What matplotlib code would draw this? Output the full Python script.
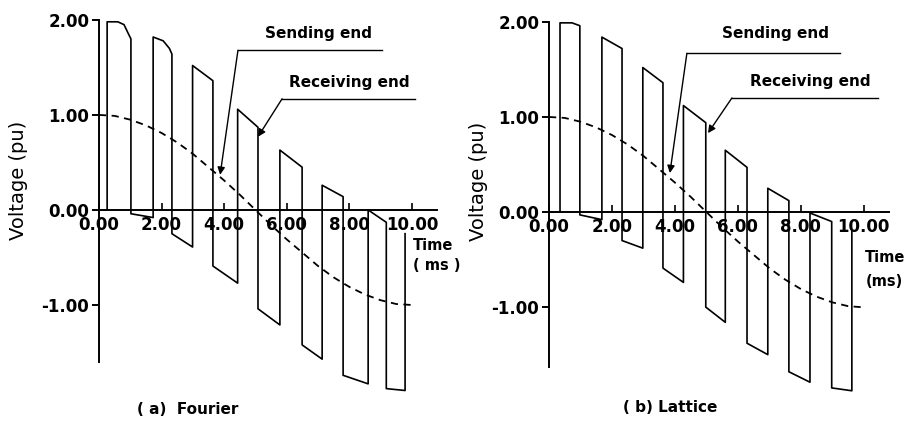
import numpy as np
import matplotlib
matplotlib.use("Agg")
import matplotlib.pyplot as plt

# ----- data -----
# receiving end waveform, Fourier method: vertices (time ms, voltage pu)
fourier_t = [0, 0.26, 0.26, 0.6, 0.8, 0.93, 1.02, 1.02, 1.73, 1.73, 2.05, 2.25,
             2.33, 2.33, 2.99, 2.99, 3.64, 3.64, 4.43, 4.43, 5.08, 5.08, 5.78,
             5.78, 6.49, 6.49, 7.13, 7.13, 7.80, 7.80, 8.60, 8.60, 9.18, 9.18,
             9.78, 9.78]
fourier_v = [0, 0, 1.98, 1.98, 1.95, 1.86, 1.80, -0.04, -0.08, 1.82, 1.78, 1.70,
             1.64, -0.25, -0.39, 1.52, 1.36, -0.59, -0.77, 1.06, 0.87, -1.04,
             -1.21, 0.63, 0.45, -1.42, -1.57, 0.26, 0.14, -1.74, -1.83, 0.0,
             -0.13, -1.88, -1.90, -0.25]

# receiving end waveform, Lattice method
lattice_t = [0, 0.35, 0.35, 0.73, 0.98, 0.98, 1.68, 1.68, 2.32, 2.32, 2.98, 2.98,
             3.62, 3.62, 4.27, 4.27, 4.98, 4.98, 5.60, 5.60, 6.29, 6.29, 6.95,
             6.95, 7.62, 7.62, 8.29, 8.29, 8.98, 8.98, 9.62, 9.62]
lattice_v = [0, 0, 1.99, 1.99, 1.96, -0.03, -0.08, 1.84, 1.72, -0.30, -0.38, 1.52,
             1.36, -0.59, -0.74, 1.12, 0.94, -1.00, -1.16, 0.65, 0.47, -1.38,
             -1.50, 0.25, 0.12, -1.68, -1.79, -0.01, -0.10, -1.85, -1.88, -0.20]

# sending end voltage (dashed)
send_t = [0, 0.5, 1, 1.5, 2, 2.5, 3, 3.5, 4, 4.5, 5, 5.5, 6, 6.5, 7, 7.5, 8,
          8.5, 9, 9.5, 10]
send_v = [1.00, 0.99, 0.95, 0.89, 0.81, 0.71, 0.59, 0.45, 0.31, 0.16, 0.00,
          -0.16, -0.31, -0.45, -0.59, -0.71, -0.81, -0.89, -0.95, -0.99, -1.00]

x_ticks = [0, 2, 4, 6, 8, 10]
x_labels = ["0.00", "2.00", "4.00", "6.00", "8.00", "10.00"]
y_ticks = [-1, 0, 1, 2]
y_labels = ["-1.00", "0.00", "1.00", "2.00"]

W, H = 909, 421
fig = plt.figure(figsize=(W / 100, H / 100), dpi=100)
fig.patch.set_facecolor("white")


def px_axes(left, right, top, bottom):
    return fig.add_axes([left / W, 1 - bottom / H, (right - left) / W, (bottom - top) / H])


def setup(ax, ylim):
    ax.set_xlim(0, 10.8)
    ax.set_ylim(*ylim)
    for s in ["top", "right"]:
        ax.spines[s].set_visible(False)
    ax.spines["bottom"].set_position(("data", 0))
    ax.spines["left"].set_bounds(ylim[0], 2.0)
    for s in ["bottom", "left"]:
        ax.spines[s].set_linewidth(1.4)
    ax.set_xticks(x_ticks)
    ax.set_xticklabels(x_labels, fontweight="bold", fontsize=12)
    ax.set_yticks(y_ticks)
    ax.set_yticklabels(y_labels, fontweight="bold", fontsize=12, va="center_baseline")
    ax.tick_params(axis="x", direction="in", length=5, width=1.2, pad=4.5)
    ax.tick_params(axis="y", direction="out", length=5, width=1.4, pad=2)
    for lab in ax.get_xticklabels():
        lab.set_bbox(dict(facecolor="white", edgecolor="none", pad=0.5))
    ax.patch.set_alpha(0)


def leader(ax, text, text_xy, line_x, line_y, tip):
    ax.text(text_xy[0], text_xy[1], text, ha="center", va="center",
            fontsize=11, fontweight="bold", clip_on=False)
    ax.plot(line_x, [line_y, line_y], color="black", lw=1.0, clip_on=False)
    ax.annotate("", xy=tip, xytext=(line_x[0], line_y), annotation_clip=False,
                arrowprops=dict(arrowstyle="-|>", color="black", lw=1.0,
                                mutation_scale=11, shrinkA=0, shrinkB=0))


# ----- (a) Fourier -----
ax1 = px_axes(99, 437, 18, 362)
setup(ax1, (-1.6, 2.02))
ax1.plot(fourier_t, fourier_v, color="black", lw=1.2, clip_on=False)
ax1.plot(send_t, send_v, color="black", lw=1.3, ls=(0, (4, 3)), clip_on=False)
leader(ax1, "Sending end", (7.0, 1.86), [4.44, 9.04], 1.68, (3.87, 0.37))
leader(ax1, "Receiving end", (7.99, 1.34), [5.85, 10.1], 1.17, (5.08, 0.77))

# ----- (b) Lattice -----
ax2 = px_axes(549, 889, 20, 367)
setup(ax2, (-1.63, 2.02))
ax2.plot(lattice_t, lattice_v, color="black", lw=1.2, clip_on=False)
ax2.plot(send_t[:-1] + [9.9], send_v, color="black", lw=1.3, ls=(0, (4, 3)), clip_on=False)
leader(ax2, "Sending end", (7.2, 1.88), [4.38, 9.24], 1.67, (3.84, 0.41))
leader(ax2, "Receiving end", (8.29, 1.37), [5.81, 10.44], 1.20, (5.05, 0.83))

# axis titles
fig.text(19 / W, 1 - 180 / H, "Voltage (pu)", rotation=90, ha="center", va="center", fontsize=14)
fig.text(478 / W, 1 - 181 / H, "Voltage (pu)", rotation=90, ha="center", va="center", fontsize=14)
fig.text(413 / W, 1 - 245 / H, "Time", ha="left", va="center", fontsize=10.5, fontweight="bold")
fig.text(413 / W, 1 - 266 / H, "( ms )", ha="left", va="center", fontsize=10.5, fontweight="bold")
fig.text(865 / W, 1 - 258 / H, "Time", ha="left", va="center", fontsize=10.5, fontweight="bold")
fig.text(866 / W, 1 - 282 / H, "(ms)", ha="left", va="center", fontsize=10.5, fontweight="bold")

# captions
fig.text(188 / W, 1 - 410 / H, "( a)  Fourier", ha="center", va="center", fontsize=11, fontweight="bold")
fig.text(670 / W, 1 - 408 / H, "( b) Lattice", ha="center", va="center", fontsize=11, fontweight="bold")

fig.savefig("out.png", dpi=100, facecolor="white")
